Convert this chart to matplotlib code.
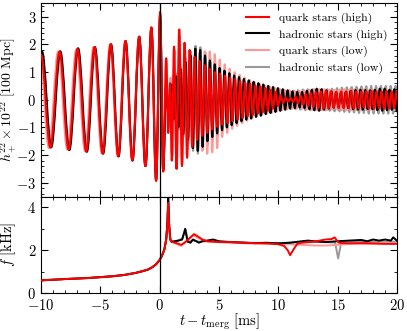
import numpy as np
import matplotlib
matplotlib.use("Agg")
import matplotlib.pyplot as plt
from matplotlib.ticker import MultipleLocator
from matplotlib.path import Path
from matplotlib.patches import PathPatch
from matplotlib.lines import Line2D

plt.rcParams["font.family"] = "serif"
plt.rcParams["font.serif"] = ["cmr10"]
plt.rcParams["mathtext.fontset"] = "cm"
plt.rcParams["axes.formatter.use_mathtext"] = True
plt.rcParams["axes.unicode_minus"] = True

# --- strain: extrema (time [ms], h) ---
red_t_early = [-10.0, -9.22, -8.45, -7.68, -6.93, -6.2, -5.5, -4.81, -4.13, -3.49, -2.88, -2.3,
               -1.73, -1.2, -0.7, -0.3, 0.04, 0.30, 0.55, 0.72, 0.88, 1.02, 1.21, 1.42, 1.65, 1.88]
red_h_early = [1.62, -1.73, 1.74, -1.80, 1.83, -1.87, 1.90, -1.94, 2.01, -2.04, 2.12, -2.19,
               2.28, -2.40, 2.62, -2.94, 3.18, -2.6, 1.5, -1.2, 0.6, -2.2, 1.92, -2.5, 2.54, -2.4]
red_h_late = [2.06, -2.1, 1.8, -1.7, 1.55,
              -1.45, 1.4, -1.3, 1.25, -1.2,
              1.12, -1.08, 1.0, -0.98, 0.95,
              -0.9, 0.88, -0.85, 0.8, -0.78,
              0.75, -0.72, 0.68, -0.66, 0.62,
              -0.6, 0.58, -0.55, 0.52, -0.5,
              0.48, -0.45, 0.42, -0.4, 0.36,
              -0.32, 0.28, -0.22, 0.16, -0.12,
              0.08, -0.06, 0.06, -0.08, 0.1,
              -0.12, 0.15, -0.17, 0.2, -0.22,
              0.24, -0.26, 0.28, -0.3, 0.3,
              -0.32, 0.32, -0.3, 0.3, -0.28,
              0.28, -0.3, 0.3, -0.3, 0.3,
              -0.3, 0.32, -0.32, 0.3, -0.3,
              0.3, -0.28, 0.3, -0.32, 0.32,
              -0.32, 0.3, -0.3, 0.3, -0.32,
              0.32, -0.32, 0.3, -0.3, 0.3, -0.3]
red_late_span = (2.1, 20.2)

black_t_early = [-9.92, -9.15, -8.38, -7.62, -6.88, -6.14, -5.46, -4.77, -4.1, -3.47, -2.87, -2.29,
                 -1.72, -1.2, -0.69, -0.3, 0.04, 0.30]
black_h_early = [1.74, -1.72, 1.75, -1.82, 1.86, -1.88, 1.9, -1.95, 2.0, -2.05, 2.12, -2.2,
                 2.28, -2.4, 2.6, -2.9, 3.05, -2.55]
black_h_late = [0.5, -0.6, 0.55, -0.7, 0.85,
                -1.0, 1.1, -1.25, 1.35, -1.45,
                1.6, -1.75, 1.85, -1.85, 1.8,
                -1.7, 1.6, -1.5, 1.42, -1.35,
                1.28, -1.22, 1.15, -1.1, 1.05,
                -1.0, 0.96, -0.92, 0.88, -0.85,
                0.82, -0.78, 0.75, -0.72, 0.7,
                -0.68, 0.65, -0.62, 0.6, -0.58,
                0.55, -0.52, 0.5, -0.48, 0.46,
                -0.44, 0.42, -0.4, 0.38, -0.36,
                0.34, -0.32, 0.3, -0.3, 0.28,
                -0.28, 0.28, -0.3, 0.32, -0.34,
                0.36, -0.38, 0.4, -0.4, 0.38,
                -0.36, 0.34, -0.32, 0.3, -0.28,
                0.26, -0.25, 0.25, -0.26, 0.28,
                -0.3, 0.32, -0.34, 0.35, -0.36,
                0.36, -0.36, 0.35, -0.34, 0.34,
                -0.34, 0.36, -0.38, 0.4, -0.4,
                0.4, -0.38, 0.36, -0.36, 0.38, -0.4, 0.4]
black_late_span = (0.55, 20.2)

pink_t_early = [-10.1, -9.34, -8.56, -7.79, -7.03, -6.29, -5.58, -4.88, -4.18, -3.53, -2.91, -2.32,
                -1.74, -1.21, -0.7, -0.31, 0.03, 0.30, 0.55, 0.75, 0.92, 1.08, 1.25, 1.45, 1.67, 1.9]
pink_h_early = [1.72, -1.75, 1.75, -1.8, 1.82, -1.86, 1.9, -1.94, 2.0, -2.05, 2.12, -2.2,
                2.28, -2.4, 2.6, -2.85, 3.0, -2.5, 1.4, -1.0, 0.8, -2.0, 1.8, -2.3, 2.3, -2.2]
pink_h_late = [1.9, -1.8, 1.7, -1.6, 1.6,
               -1.7, 1.7, -1.85, 1.75, -1.95,
               1.75, -1.9, 1.65, -1.75, 1.45,
               -1.35, 1.28, -1.2, 1.12, -1.05,
               1.0, -0.95, 0.9, -0.85, 0.8,
               -0.76, 0.72, -0.68, 0.64, -0.6,
               0.57, -0.54, 0.52, -0.5, 0.48,
               -0.46, 0.44, -0.42, 0.4, -0.38,
               0.36, -0.35, 0.34, -0.33, 0.32,
               -0.32, 0.32, -0.33, 0.34, -0.35,
               0.36, -0.37, 0.38, -0.38, 0.38,
               -0.38, 0.38, -0.38, 0.37, -0.36,
               0.36, -0.36, 0.37, -0.38, 0.38,
               -0.38, 0.38, -0.38, 0.38, -0.38,
               0.38, -0.38, 0.38, -0.38, 0.37,
               -0.36, 0.36, -0.36, 0.36, -0.36,
               0.36, -0.36, 0.36, -0.36, 0.36, -0.36, 0.36]
pink_late_span = (2.12, 20.2)

gray_t_early = [-9.95, -9.18, -8.41, -7.65, -6.9, -6.17, -5.48, -4.79, -4.11, -3.48, -2.88, -2.3,
                -1.73, -1.2, -0.7, -0.3, 0.04, 0.30]
gray_h_early = [1.72, -1.72, 1.74, -1.8, 1.84, -1.87, 1.9, -1.94, 2.0, -2.04, 2.12, -2.18,
                2.26, -2.38, 2.58, -2.85, 2.95, -2.4]
gray_h_late = [0.6, -0.7, 0.65, -0.8, 0.95,
               -1.1, 1.2, -1.35, 1.5, -1.6,
               1.75, -1.85, 1.95, -1.95, 1.9,
               -1.8, 1.72, -1.62, 1.52, -1.45,
               1.38, -1.3, 1.22, -1.15, 1.1,
               -1.05, 1.0, -0.95, 0.9, -0.86,
               0.82, -0.78, 0.75, -0.72, 0.68,
               -0.65, 0.62, -0.6, 0.57, -0.55,
               0.52, -0.5, 0.48, -0.46, 0.44,
               -0.42, 0.4, -0.38, 0.36, -0.35,
               0.34, -0.33, 0.33, -0.34, 0.35,
               -0.36, 0.37, -0.38, 0.38, -0.38,
               0.38, -0.38, 0.38, -0.38, 0.38,
               -0.38, 0.38, -0.4, 0.4, -0.42,
               0.42, -0.42, 0.44, -0.44, 0.45,
               -0.45, 0.46, -0.46, 0.47, -0.48,
               0.48, -0.48, 0.49, -0.5, 0.5,
               -0.5, 0.5, -0.5, 0.5, -0.5,
               0.5, -0.5, 0.5, -0.5, 0.5, -0.5]
gray_late_span = (0.55, 20.1)

# --- frequency track [kHz] ---
red_ft = [-10, -8, -6, -5, -4, -3, -2, -1.5, -1, -0.6, -0.3, 0, 0.2, 0.4, 0.55, 0.65, 0.72, 0.8, 0.9,
          1.0, 1.3, 1.6, 1.8, 2.1, 2.5, 2.9, 3.2, 3.6, 4.0, 5, 6, 7, 8, 9, 10, 10.5, 10.8, 11.0, 11.3,
          11.6, 12, 13, 13.5, 14, 14.5, 14.75, 15.1, 15.5, 16, 17, 18, 19, 20]
red_f = [0.6, 0.66, 0.71, 0.75, 0.79, 0.85, 0.95, 1.02, 1.1, 1.22, 1.35, 1.55, 1.75, 2.05, 2.5, 3.2, 4.2,
         3.1, 2.5, 2.4, 2.35, 2.3, 2.25, 2.35, 2.55, 2.75, 2.65, 2.5, 2.42, 2.38, 2.38, 2.35, 2.33, 2.32,
         2.28, 2.2, 2.0, 1.77, 2.05, 2.3, 2.35, 2.4, 2.45, 2.5, 2.52, 2.6, 2.35, 2.33, 2.32, 2.33, 2.32,
         2.3, 2.3]

black_ft = [-10, -8, -6, -5, -4, -3, -2, -1.5, -1, -0.6, -0.3, 0, 0.2, 0.4, 0.55, 0.65, 0.72, 0.8, 0.9,
            1.0, 1.3, 1.6, 1.9, 2.15, 2.35, 2.6, 2.8, 3.0, 3.3, 3.6, 4.0, 4.5, 5, 6, 7, 8, 9, 10, 11,
            12, 12.5, 13, 14, 15, 16, 17, 17.5, 18, 18.5, 19, 19.5, 19.7, 20]
black_f = [0.6, 0.66, 0.71, 0.75, 0.79, 0.85, 0.95, 1.02, 1.1, 1.22, 1.35, 1.55, 1.75, 2.05, 2.5, 3.3,
           4.45, 3.2, 2.5, 2.4, 2.42, 2.45, 2.5, 3.0, 2.4, 2.35, 2.5, 2.45, 2.35, 2.42, 2.45, 2.5, 2.42,
           2.38, 2.36, 2.33, 2.35, 2.32, 2.35, 2.42, 2.45, 2.42, 2.38, 2.42, 2.45, 2.48, 2.42, 2.5,
           2.45, 2.5, 2.45, 2.6, 2.45]

pink_ft = [-10, -8, -6, -5, -4, -3, -2, -1.5, -1, -0.6, -0.3, 0, 0.2, 0.4, 0.55, 0.65, 0.72, 0.8, 0.9,
           1.0, 1.4, 1.8, 2.2, 2.8, 3.3, 4.0, 5, 7, 9, 11, 12, 13, 14, 15, 16, 18, 20]
pink_f = [0.6, 0.66, 0.71, 0.75, 0.79, 0.85, 0.95, 1.02, 1.1, 1.22, 1.35, 1.55, 1.75, 2.05, 2.5, 3.1, 4.0,
          3.0, 2.5, 2.4, 2.3, 2.2, 2.4, 2.7, 2.55, 2.42, 2.38, 2.33, 2.3, 2.28, 2.25, 2.22, 2.22, 2.25,
          2.3, 2.3, 2.3]

gray_ft = [-10, -8, -6, -5, -4, -3, -2, -1.5, -1, -0.6, -0.3, 0, 0.2, 0.4, 0.55, 0.65, 0.72, 0.8, 0.9,
           1.0, 1.5, 1.9, 2.2, 2.4, 2.8, 3.3, 4, 6, 8, 10, 12, 14, 14.8, 15.05, 15.3, 16, 18, 20]
gray_f = [0.6, 0.66, 0.71, 0.75, 0.79, 0.85, 0.95, 1.02, 1.1, 1.22, 1.35, 1.55, 1.75, 2.05, 2.5, 3.2, 4.3,
          3.1, 2.5, 2.4, 2.45, 2.55, 2.95, 2.4, 2.45, 2.4, 2.42, 2.36, 2.34, 2.33, 2.38, 2.38, 2.35,
          1.62, 2.35, 2.38, 2.4, 2.4]

labels = ["quark stars (high)", "hadronic stars (high)", "quark stars (low)", "hadronic stars (low)"]
colors = ["#ff0000", "#000000", "#ff9999", "#999999"]

series = [
    (red_t_early, red_h_early, red_h_late, red_late_span, red_ft, red_f),
    (black_t_early, black_h_early, black_h_late, black_late_span, black_ft, black_f),
    (pink_t_early, pink_h_early, pink_h_late, pink_late_span, pink_ft, pink_f),
    (gray_t_early, gray_h_early, gray_h_late, gray_late_span, gray_ft, gray_f),
]
zorders = [4, 3, 2, 1]


def wave_path(t, h):
    # curve through the extrema, flat tangent at each peak/trough
    verts = [(t[0], h[0])]
    codes = [Path.MOVETO]
    for i in range(1, len(t)):
        d = 0.36 * (t[i] - t[i - 1])
        verts += [(t[i - 1] + d, h[i - 1]), (t[i] - d, h[i]), (t[i], h[i])]
        codes += [Path.CURVE4] * 3
    return Path(verts, codes)


fig = plt.figure(figsize=(4.07, 3.31), dpi=100)
gs = fig.add_gridspec(2, 1, height_ratios=[2, 1], hspace=0,
                      left=0.101, right=0.975, top=0.991, bottom=0.114)
ax1 = fig.add_subplot(gs[0])
ax2 = fig.add_subplot(gs[1], sharex=ax1)

handles = []
for (t_e, h_e, h_l, span, ft, f), c, lab, z in zip(series, colors, labels, zorders):
    t = np.concatenate([t_e, np.linspace(span[0], span[1], len(h_l))])
    h = np.concatenate([h_e, h_l])
    ax1.add_patch(PathPatch(wave_path(t, h), fill=False, ec=c, lw=1.5, zorder=z,
                            capstyle="round", joinstyle="round"))
    handles.append(Line2D([], [], color=c, lw=1.5, label=lab))
    ax2.plot(ft, f, color=c, lw=1.4, zorder=z)

for ax in (ax1, ax2):
    ax.axvline(0, color="black", lw=0.9, zorder=5)
    ax.tick_params(which="both", direction="in", top=True, right=True, labelsize=10.5)
    ax.tick_params(which="major", length=5)
    ax.tick_params(which="minor", length=2.5)
    ax.xaxis.set_major_locator(MultipleLocator(5))
    ax.xaxis.set_minor_locator(MultipleLocator(1))

ax1.set_xlim(-10, 20)
ax1.set_ylim(-3.5, 3.5)
ax1.yaxis.set_major_locator(MultipleLocator(1))
ax1.yaxis.set_minor_locator(MultipleLocator(0.2))
ax1.tick_params(labelbottom=False)
ax1.set_ylabel(r"$h_+^{22}\times10^{22}\ [100\ \mathrm{Mpc}]$", fontsize=10)

ax2.set_ylim(0, 4.5)
ax2.yaxis.set_major_locator(MultipleLocator(2))
ax2.yaxis.set_minor_locator(MultipleLocator(1))
ax2.set_ylabel(r"$f\ [\mathrm{kHz}]$", fontsize=10.5)
ax2.set_xlabel(r"$t-t_{\mathrm{merg}}\ [\mathrm{ms}]$", fontsize=10.5)

ax1.yaxis.set_label_coords(-0.066, 0.5)
ax2.yaxis.set_label_coords(-0.066, 0.5)
ax2.xaxis.set_label_coords(0.5, -0.19)

ax1.legend(handles=handles, loc="upper right", frameon=False, fontsize=8.5,
           handlelength=2.0, labelspacing=0.45, borderaxespad=0.4)

fig.savefig("out.png", dpi=100)
